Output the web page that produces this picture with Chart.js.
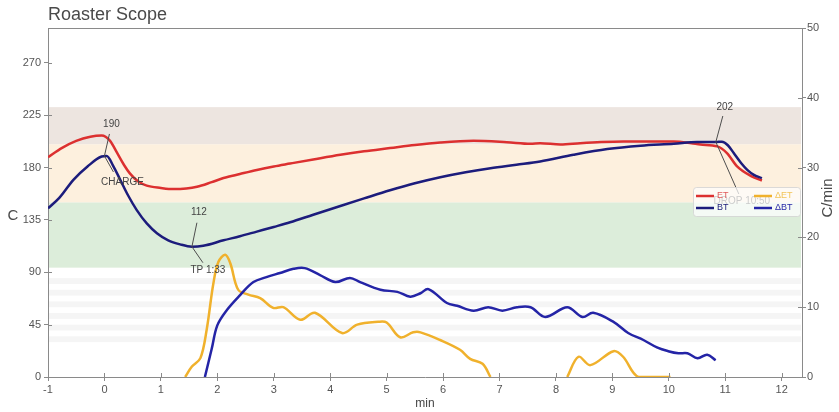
<!DOCTYPE html>
<html>
<head>
<meta charset="utf-8">
<script src="https://cdn.jsdelivr.net/npm/chart.js@4.4.1/dist/chart.umd.min.js"></script>
<style>
  html, body { margin: 0; padding: 0; background: #ffffff; }
  #wrap { width: 839px; height: 412px; }
</style>
</head>
<body>
<div id="wrap"><canvas id="roast" width="839" height="412"></canvas></div>
<script>
// Environment temperature (C) over time (min)
const etTime = [-1.0, -0.75, -0.5, -0.25, -0.05, 0.1, 0.22, 0.35, 0.45, 0.6, 0.75, 1.0, 1.22, 1.45, 1.64, 1.9, 2.11, 2.4, 2.7, 3.0, 3.29, 3.7, 4.18, 4.6, 5.06, 5.5, 5.95, 6.54, 7.13, 7.55, 7.72, 8.08, 8.43, 8.8, 9.2, 9.6, 10.09, 10.4, 10.56, 10.86, 11.03, 11.21, 11.45, 11.65];
const etTemp = [189, 197, 203, 206.5, 207.5, 203, 193, 182, 175, 168, 164.5, 162.5, 161.5, 162, 163.5, 167.5, 171, 174.5, 178, 181, 183.5, 187, 191, 194, 196.8, 199.5, 201.6, 203, 201.8, 200.5, 201, 199.8, 201, 202, 202.5, 202.5, 202.5, 201, 199.8, 198.2, 192.5, 181, 172.9, 168.9];

// Bean temperature (C) over time (min)
const btTime = [-1.0, -0.8, -0.55, -0.3, -0.05, 0.04, 0.15, 0.28, 0.42, 0.57, 0.75, 0.93, 1.13, 1.34, 1.55, 1.75, 2.11, 2.4, 2.7, 3.0, 3.29, 3.7, 4.18, 4.6, 5.06, 5.5, 5.95, 6.4, 6.84, 7.3, 7.72, 8.31, 8.91, 9.5, 10.09, 10.5, 10.833, 10.94, 11.05, 11.15, 11.28, 11.39, 11.5, 11.65];
const btTemp = [145, 154, 169.5, 181, 189.5, 190, 182, 169.5, 156, 143.7, 132, 123.6, 117.5, 114, 112, 112.8, 117.5, 121, 125, 129, 133, 139.5, 147, 153.5, 160.5, 166.5, 171.7, 176, 179.5, 182.5, 185.3, 191, 195.9, 198.8, 200.5, 202, 202, 202.3, 199, 192.5, 184, 178.1, 174, 170.9];

// Rate of rise of ET (C/min); null breaks the line
const dEtTime = [1.43, 1.55, 1.7, 1.81, 1.93, 2.02, 2.14, 2.23, 2.37, 2.55, 2.76, 2.99, 3.17, 3.47, 3.73, 4.21, 4.48, 4.85, 5.0, 5.24, 5.47, 5.6, 5.95, 6.3, 6.48, 6.7, 6.84, 7.5, 8.2, 8.4, 8.61, 9.02, 9.19, 9.46, 10.03];
const dEtRate = [0, 1.5, 2.7, 6.7, 13.4, 16.5, 17.5, 16.3, 12.5, 11.8, 11.3, 9.9, 10, 8.2, 9.2, 6.3, 7.5, 7.9, 7.8, 5.7, 6.4, 6.4, 5.3, 3.9, 2.6, 1.9, 0, null, 0, 2.9, 1.7, 3.7, 2.9, 0, 0];

// Rate of rise of BT (C/min)
const dBtTime = [1.78, 1.9, 2.0, 2.17, 2.4, 2.64, 2.87, 3.11, 3.35, 3.55, 3.82, 4.09, 4.35, 4.53, 4.89, 5.19, 5.42, 5.6, 5.74, 6.07, 6.25, 6.54, 6.8, 7.05, 7.31, 7.55, 7.81, 8.2, 8.47, 8.66, 9.02, 9.28, 9.55, 9.8, 9.99, 10.17, 10.33, 10.51, 10.68, 10.83];
const dBtRate = [0, 4.0, 7.4, 9.6, 11.7, 13.6, 14.3, 14.9, 15.5, 15.6, 14.6, 13.6, 14.2, 13.6, 12.5, 12.2, 11.5, 12.0, 12.6, 10.6, 10.2, 9.5, 10.0, 9.5, 10.0, 10.0, 8.6, 10.0, 8.6, 9.2, 7.9, 6.3, 5.3, 4.2, 3.7, 3.4, 3.4, 2.7, 3.2, 2.4];

// Roast events on the BT curve
const eventName = ['CHARGE', 'TP 1:33', 'DROP 10:50'];
const eventTime = [0, 1.55, 10.833];
const eventTemp = [190, 112, 202];

// Temperature zones (C): upper and lower bounds
const zoneHigh = [232, 200, 150];
const zoneLow  = [200, 150, 94];
const zoneFill = ['rgba(234,225,219,0.85)', 'rgba(253,237,216,0.85)', 'rgba(216,235,214,0.9)'];

// Light stripes in the low range (C): lower bound of each 5-degree strip
const stripeBase = [30, 40, 50, 60, 70, 80];

// Axis ticks
const xTickStep = 1;
const tempTickStep = 45;
const rateTickStep = 10;

const toPoints = (xs, ys) => xs.map((x, i) => ({ x: x, y: ys[i] }));

const AXIS = '#8a8a8a';
const TEXT = '#555555';
const FONT = 'Liberation Sans, Arial, sans-serif';

const zonesPlugin = {
  id: 'zones',
  beforeDatasetsDraw(chart) {
    const { ctx, chartArea: a, scales } = chart;
    const y = scales.y;
    ctx.save();
    ctx.beginPath();
    ctx.rect(a.left + 1, a.top, a.right - a.left - 2, a.bottom - a.top);
    ctx.clip();
    stripeBase.forEach(v => {
      const top = y.getPixelForValue(v + 5), bot = y.getPixelForValue(v);
      ctx.fillStyle = '#f5f5f5';
      ctx.fillRect(a.left, top, a.right - a.left, bot - top);
    });
    zoneHigh.forEach((hi, i) => {
      const top = y.getPixelForValue(hi), bot = y.getPixelForValue(zoneLow[i]);
      ctx.fillStyle = zoneFill[i];
      ctx.fillRect(a.left, top, a.right - a.left, bot - top);
    });
    ctx.restore();
  }
};

const framePlugin = {
  id: 'frame',
  afterDraw(chart) {
    const { ctx, chartArea: a, scales } = chart;
    ctx.save();
    ctx.strokeStyle = AXIS;
    ctx.lineWidth = 1;
    ctx.beginPath();
    ctx.moveTo(a.left, a.top + 0.5);
    ctx.lineTo(a.right, a.top + 0.5);
    // inner halves of the tick marks
    scales.x.ticks.forEach(t => {
      const px = Math.round(scales.x.getPixelForValue(t.value)) + 0.5;
      ctx.moveTo(px, a.bottom); ctx.lineTo(px, a.bottom - 4);
    });
    scales.y.ticks.forEach(t => {
      const py = Math.round(scales.y.getPixelForValue(t.value)) + 0.5;
      ctx.moveTo(a.left, py); ctx.lineTo(a.left + 4, py);
    });
    scales.y1.ticks.forEach(t => {
      const py = Math.round(scales.y1.getPixelForValue(t.value)) + 0.5;
      ctx.moveTo(a.right, py); ctx.lineTo(a.right - 4, py);
    });
    ctx.stroke();

    // chart title and y axis titles
    ctx.fillStyle = '#4a4a4a';
    ctx.font = '18px ' + FONT;
    ctx.textAlign = 'left';
    ctx.textBaseline = 'middle';
    ctx.fillText('Roaster Scope', a.left, 15);
    ctx.font = '15px ' + FONT;
    ctx.textAlign = 'center';
    ctx.fillText('C', 13, 216);
    ctx.translate(828, 198);
    ctx.rotate(-Math.PI / 2);
    ctx.fillText('C/min', 0, 0);
    ctx.restore();
  }
};

// offsets of each event's value label and name label from the event point (px)
const eventLabelOffsets = [
  { val: [7, -32], valEnd: [5, -22], name: [18, 26], nameEnd: [9, 16] },
  { val: [7, -34], valEnd: [5, -24], name: [16, 24], nameEnd: [11, 16] },
  { val: [9, -35], valEnd: [7, -26], name: [26, 59], nameEnd: [23, 52] }
];

const eventsPlugin = {
  id: 'events',
  afterDatasetsDraw(chart) {
    const { ctx, scales } = chart;
    ctx.save();
    ctx.font = '10px ' + FONT;
    ctx.textAlign = 'center';
    ctx.textBaseline = 'middle';
    eventName.forEach((name, i) => {
      const px = scales.x.getPixelForValue(eventTime[i]);
      const py = scales.y.getPixelForValue(eventTemp[i]);
      const o = eventLabelOffsets[i];
      ctx.strokeStyle = '#4d4d4d';
      ctx.lineWidth = 1;
      ctx.beginPath();
      ctx.moveTo(px + o.valEnd[0], py + o.valEnd[1]);
      ctx.lineTo(px, py);
      ctx.lineTo(px + o.nameEnd[0], py + o.nameEnd[1]);
      ctx.stroke();
      ctx.fillStyle = '#444444';
      ctx.fillText(String(eventTemp[i]), px + o.val[0], py + o.val[1]);
      ctx.fillText(name, px + o.name[0], py + o.name[1]);
    });
    ctx.restore();
  }
};

const legendPlugin = {
  id: 'boxLegend',
  afterDraw(chart) {
    const { ctx, chartArea: a } = chart;
    const ds = chart.data.datasets;
    const byLabel = l => ds.find(d => d.label === l);
    const cells = [
      { l: 'ET', col: 0, row: 0, text: '#e05a5a' },
      { l: 'ΔET', col: 1, row: 0, text: '#f2c55a' },
      { l: 'BT', col: 0, row: 1, text: '#1a1a78' },
      { l: 'ΔBT', col: 1, row: 1, text: '#2a2aa8' }
    ];
    const bx = a.right - 109, by = 187, bw = 107, bh = 29;
    ctx.save();
    ctx.fillStyle = 'rgba(255,255,255,0.72)';
    ctx.strokeStyle = 'rgba(210,210,210,0.8)';
    ctx.lineWidth = 1;
    ctx.beginPath();
    ctx.roundRect(bx + 0.5, by + 0.5, bw, bh, 3);
    ctx.fill();
    ctx.stroke();
    ctx.font = '9px ' + FONT;
    ctx.textBaseline = 'middle';
    ctx.textAlign = 'left';
    cells.forEach(c => {
      const d = byLabel(c.l);
      const x0 = bx + 3 + c.col * 58;
      const y0 = by + 9 + c.row * 12;
      ctx.strokeStyle = d.borderColor;
      ctx.lineWidth = 2.5;
      ctx.beginPath();
      ctx.moveTo(x0, y0);
      ctx.lineTo(x0 + 18, y0);
      ctx.stroke();
      ctx.fillStyle = c.text;
      ctx.fillText(c.l, x0 + 21, y0);
    });
    ctx.restore();
  }
};

const tempStyle = (color) => ({
  borderColor: color,
  backgroundColor: color,
  borderWidth: 2.5,
  pointRadius: 0,
  fill: false,
  cubicInterpolationMode: 'monotone',
  spanGaps: false
});

const rateStyle = (color) => ({
  borderColor: color,
  backgroundColor: color,
  borderWidth: 2.5,
  pointRadius: 0,
  fill: false,
  tension: 0.35,
  spanGaps: false
});

new Chart(document.getElementById('roast'), {
  type: 'line',
  data: {
    datasets: [
      Object.assign({ label: 'BT', data: toPoints(btTime, btTemp), yAxisID: 'y' }, tempStyle('#1c1c7c')),
      Object.assign({ label: 'ET', data: toPoints(etTime, etTemp), yAxisID: 'y' }, tempStyle('#dc3030')),
      Object.assign({ label: 'ΔBT', data: toPoints(dBtTime, dBtRate), yAxisID: 'y1' }, rateStyle('#2424a6')),
      Object.assign({ label: 'ΔET', data: toPoints(dEtTime, dEtRate), yAxisID: 'y1' }, rateStyle('#f0b12c'))
    ]
  },
  options: {
    responsive: false,
    animation: false,
    layout: { padding: { top: 28, left: 0, right: 0, bottom: 0 } },
    plugins: {
      legend: { display: false },
      tooltip: { enabled: false },
      title: { display: false }
    },
    scales: {
      x: {
        type: 'linear',
        min: -1,
        max: 12.36,
        border: { color: AXIS, width: 1 },
        grid: { drawOnChartArea: false, drawTicks: true, tickLength: 4, color: AXIS },
        ticks: { stepSize: xTickStep, includeBounds: false, color: TEXT, padding: 2, maxRotation: 0,
                 font: { size: 11, family: FONT } },
        title: { display: true, text: 'min', color: '#444', font: { size: 12, family: FONT }, padding: { top: 0, bottom: 1 } },
        afterFit(s) { s.height = 35; }
      },
      y: {
        position: 'left',
        min: 0,
        max: 300,
        border: { color: AXIS, width: 1 },
        grid: { drawOnChartArea: false, drawTicks: true, tickLength: 4, color: AXIS },
        ticks: { stepSize: tempTickStep, includeBounds: false, color: TEXT, padding: 3,
                 font: { size: 11, family: FONT } },
        afterFit(s) { s.width = 48; }
      },
      y1: {
        position: 'right',
        min: 0,
        max: 50,
        border: { color: AXIS, width: 1 },
        grid: { drawOnChartArea: false, drawTicks: true, tickLength: 4, color: AXIS },
        ticks: { stepSize: rateTickStep, color: TEXT, padding: 1,
                 font: { size: 11, family: FONT } },
        afterFit(s) { s.width = 37; }
      }
    }
  },
  plugins: [zonesPlugin, eventsPlugin, framePlugin, legendPlugin]
});
</script>
</body>
</html>
